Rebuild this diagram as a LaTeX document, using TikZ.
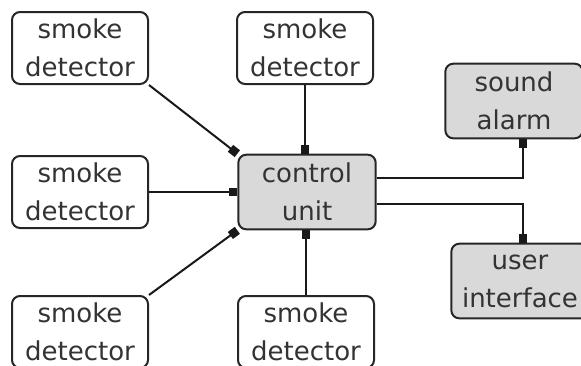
\documentclass[tikz,border=0pt]{standalone}
\usepackage{fontspec}
\setmainfont{DejaVu Sans}
\usetikzlibrary{arrows.meta}
\tikzset{
  unit/.style={draw=black!85, line width=1.5pt, rounded corners=6pt, align=center,
    font=\fontsize{19.5}{28.5}\selectfont, text=black!80, inner sep=0pt},
  detector/.style={unit, fill=white, minimum width=102pt, minimum height=54pt},
  module/.style={unit, fill=black!15, minimum width=103pt, minimum height=56pt},
  link/.style={draw=black!90, line width=1.5pt, -{Square[length=6.5pt,width=6.5pt]}}
}
\begin{document}
\begin{tikzpicture}[x=0.75pt,y=-0.75pt]
  \useasboundingbox (0,0) rectangle (581,365);
  \clip (0,0) rectangle (581,365);
  % detectors on the left and in the middle column
  \node[detector] (det1) at (80,48) {smoke\\detector};
  \node[detector] (det2) at (305,48) {smoke\\detector};
  \node[detector] (det3) at (80,192) {smoke\\detector};
  \node[detector] (det4) at (80,332) {smoke\\detector};
  \node[detector] (det5) at (306,332) {smoke\\detector};
  \node[module] (ctrl) at (307,192) {control\\unit};
  \node[module] (alarm) at (514,101) {sound\\alarm};
  \node[module] (ui) at (520,281) {user\\interface};
  % inputs
  \draw[link] (det1.south east) -- (ctrl.north west);
  \draw[link] (det2.south) -- (ctrl.north -| det2.south);
  \draw[link] (det3.east) -- (ctrl.west);
  \draw[link] (det4.north east) -- (ctrl.south west);
  \draw[link] (det5.north) -- (ctrl.south -| det5.north);
  % outputs
  \draw[link] ([yshift=10.5pt]ctrl.east) -| ([xshift=6.75pt]alarm.south);
  \draw[link] ([yshift=-9pt]ctrl.east) -| ([xshift=2.25pt]ui.north);
\end{tikzpicture}
\end{document}
